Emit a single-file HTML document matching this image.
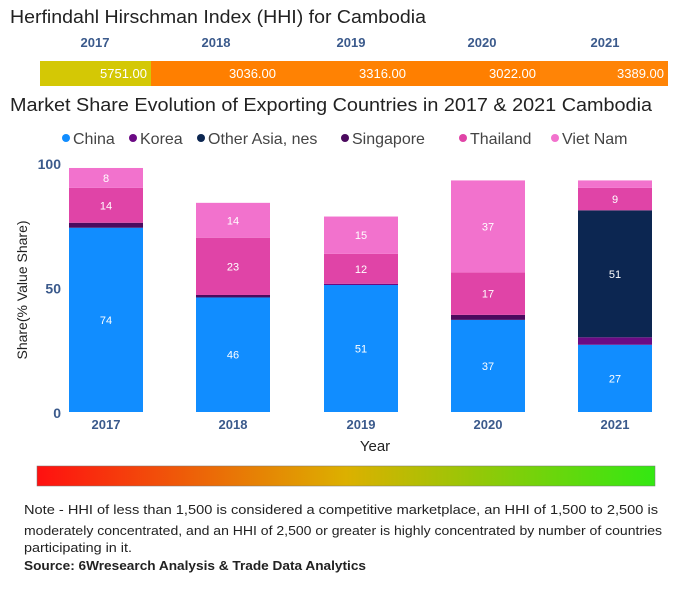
<!DOCTYPE html>
<html><head><meta charset="utf-8"><style>
body{margin:0;background:#fff;font-family:"Liberation Sans",sans-serif;}
svg{display:block}
</style></head><body>
<svg id="c" width="684" height="600">
<defs><linearGradient id="g" x1="0" x2="1"><stop offset="0" stop-color="#ff1010"/><stop offset="0.5" stop-color="#dcb000"/><stop offset="1" stop-color="#33e812"/></linearGradient></defs>
<text x="10" y="23" font-size="18" fill="#222" textLength="416" lengthAdjust="spacingAndGlyphs">Herfindahl Hirschman Index (HHI) for Cambodia</text>
<g id="hhi"></g>
<text x="10" y="111" font-size="18" fill="#222" textLength="642" lengthAdjust="spacingAndGlyphs">Market Share Evolution of Exporting Countries in 2017 &amp; 2021 Cambodia</text>
<g id="legend"></g>
<g id="axes"></g>
<g id="bars"></g>
<text x="375" y="451" font-size="15" fill="#222" text-anchor="middle">Year</text>
<text transform="translate(27,290) rotate(-90)" font-size="14" fill="#222" text-anchor="middle">Share(% Value Share)</text>
<rect x="37" y="466" width="618" height="20" fill="url(#g)" stroke="#777" stroke-width="0.5"/>
<g font-size="13" fill="#222">
<text x="24" y="514" textLength="634" lengthAdjust="spacingAndGlyphs">Note - HHI of less than 1,500 is considered a competitive marketplace, an HHI of 1,500 to 2,500 is</text>
<text x="24" y="535" textLength="638" lengthAdjust="spacingAndGlyphs">moderately concentrated, and an HHI of 2,500 or greater is highly concentrated by number of countries</text>
<text x="24" y="552" textLength="108" lengthAdjust="spacingAndGlyphs">participating in it.</text>
</g>
<text x="24" y="570" font-size="13" font-weight="bold" fill="#222" textLength="342" lengthAdjust="spacingAndGlyphs">Source: 6Wresearch Analysis &amp; Trade Data Analytics</text>
</svg>
<script>
const years=["2017","2018","2019","2020","2021"];
const hhiValues=[5751,3036,3316,3022,3389];
const seriesNames=["China","Korea","Other Asia, nes","Singapore","Thailand","Viet Nam"];
const china=[74,46,51,37,27];
const korea=[0,0,0.5,0,3];
const otherAsia=[0,0,0,0,51];
const singapore=[2,1,0,2,0];
const thailand=[14,23,12,17,9];
const vietNam=[8,14,15,37,3];
const yTicks=[0,50,100];
const colors=["#118dff","#6b0a84","#0c2651","#4b0a5e","#e044a7","#f272cd"];
const NS="http://www.w3.org/2000/svg";
function mk(t,a,p){const e=document.createElementNS(NS,t);for(const k in a)e.setAttribute(k,a[k]);p.appendChild(e);return e;}
const hhi=document.getElementById('hhi');
const hx=[40,151,280,410,540,668];
const hcol=["#d4c805","#ff7f00","#ff8203","#ff7f00","#ff8406"];
const hlab=[95,216,351,482,605];
years.forEach((y,i)=>{
 const t=mk('text',{x:hlab[i],y:47,'font-size':13,'font-weight':'bold',fill:'#3b5a8c','text-anchor':'middle'},hhi);t.textContent=y;
 
 
 const r=mk('rect',{x:hx[i],y:61,width:hx[i+1]-hx[i],height:25,fill:hhiValues[i]>4000?"#d4c805":hcol[i]},hhi);
 
 
 const v=mk('text',{x:hx[i+1]-4,y:78,'font-size':13,fill:'#fff','text-anchor':'end'},hhi);v.textContent=hhiValues[i].toFixed(2);
 
 
});
const lg=document.getElementById('legend');
const lx=[64,131,199,343,461,553];
seriesNames.forEach((n,i)=>{
 const g=mk('g',{},lg);
 
 
 mk('circle',{cx:lx[i]+2,cy:138,r:4,fill:colors[i]},g);
 const t=mk('text',{x:lx[i]+9,y:144,'font-size':16,fill:'#444'},g);t.textContent=n;
});
const y0=412,pu=2.49;
function Y(v){return y0-v*pu;}
const ax=document.getElementById('axes');
yTicks.forEach(v=>{const t=mk('text',{x:61,y:Y(v)+6,'font-size':14,'font-weight':'bold',fill:'#3b5a8c','text-anchor':'end'},ax);t.textContent=v;
 
 });
const bx=[69,196,324,451,578],bw=74;
const series=[china,korea,otherAsia,singapore,thailand,vietNam];
const bars=document.getElementById('bars');
years.forEach((y,i)=>{
 let cum=0;
 series.forEach((s,k)=>{
  const v=s[i];if(!v){return;}
  const r=mk('rect',{x:bx[i],y:Y(cum+v),width:bw,height:v*pu,fill:colors[k]},bars);
  
  
  if(v>=5){const t=mk('text',{x:bx[i]+bw/2,y:Y(cum+v/2)+4,'font-size':11,fill:'#fff','text-anchor':'middle'},bars);t.textContent=Math.round(v);
   
   }
  cum+=v;
 });
 const t=mk('text',{x:bx[i]+bw/2,y:429,'font-size':13,'font-weight':'bold',fill:'#3b5a8c','text-anchor':'middle'},ax);t.textContent=y;
 
 
});
</script>
</body></html>
